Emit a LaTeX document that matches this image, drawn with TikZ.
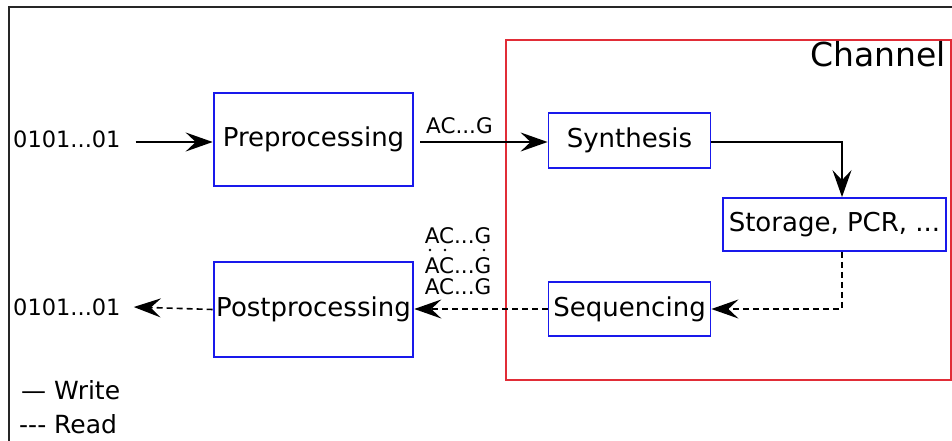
\documentclass[tikz,border=0pt]{standalone}
\usepackage{fontspec}
\setmainfont{DejaVu Sans}[Ligatures=TeXOff]
\usepackage{tikz}
\usetikzlibrary{arrows.meta}
\tikzset{>={Stealth[length=27pt,width=19pt,inset=10pt]}}
\definecolor{boxblue}{RGB}{25,25,235}
\definecolor{chanred}{RGB}{225,45,55}

\tikzset{
  bigblock/.style={draw=boxblue,line width=2.6pt,inner sep=0pt,font=\fontsize{26}{31}\selectfont},
  smallblock/.style={draw=boxblue,line width=1.8pt,inner sep=0pt,font=\fontsize{26}{31}\selectfont},
  seqlabel/.style={inner sep=0pt,font=\fontsize{21.5}{26}\selectfont},
  legend/.style={inner sep=0pt,anchor=base west,font=\fontsize{25}{30}\selectfont},
  flow/.style={->,line width=1.8pt},
  readflow/.style={->,line width=1.6pt,dash pattern=on 6pt off 4pt}
}

\begin{document}
\begin{tikzpicture}[x=1pt,y=-1pt]
      \clip (0,0) rectangle (952,441);
      \draw[line width=2pt,black!85] (9,7) rectangle (980,470);

      % channel
      \draw[chanred,line width=1.4pt] (506,40) rectangle (951,380);
      \node[inner sep=0pt,anchor=base east,font=\fontsize{33}{38}\selectfont] (chan) at (946,67) {Channel};

      % blocks
      \node[bigblock,minimum width=199pt,minimum height=93pt] (pre) at (313.5,139.5) {Preprocessing};
      \node[bigblock,minimum width=199pt,minimum height=95pt] (post) at (313.5,309.5) {Postprocessing};
      \node[smallblock,minimum width=162pt,minimum height=55pt] (synth) at (629.5,140.5) {Synthesis};
      \node[smallblock,minimum width=223pt,minimum height=53pt] (store) at (834.5,224.5) {Storage, PCR, ...};
      \node[smallblock,minimum width=162pt,minimum height=54pt] (seq) at (629.5,309) {Sequencing};

      \node[seqlabel,anchor=west,font=\fontsize{22.5}{27}\selectfont] (bitsin) at (13,139) {0101...01};
      \node[seqlabel,anchor=west,font=\fontsize{22.5}{27}\selectfont] (bitsout) at (13,307) {0101...01};

      % write path
      \coordinate (in) at ([xshift=15pt,yshift=-3pt]bitsin.east);
      \draw[flow] (in) -- (in -| pre.west);
      \coordinate (mid) at ([xshift=6pt,yshift=-2.5pt]pre.east);
      \draw[flow] (mid) -- (mid -| synth.west)
        node[seqlabel,pos=0,anchor=base west,xshift=5pt,yshift=9pt] (wlabel) {AC...G};
      \draw[flow] ([yshift=-1.5pt]synth.east) -| ([xshift=7.5pt]store.north);

      % read path
      \draw[readflow] ([xshift=7.5pt]store.south) |- (seq.east);
      \draw[readflow] (seq.west) -- (seq.west -| post.east);
      \draw[readflow] (post.west) -- ([xshift=13pt]bitsout.east);

      \node[seqlabel] (r1) at (458,236) {AC...G};
      \node[seqlabel] (r2) at (458,266) {AC...G};
      \node[seqlabel] (r3) at (458,287) {AC...G};
      \foreach \x in {430, 445, 484} {
        \fill (\x, 250) circle (1.4pt);
      }

      % legend
      \node[legend] (wr) at (21,399) {— Write};
      \node[legend] (rd) at (19,433) {--- Read};
    \end{tikzpicture}
\end{document}
